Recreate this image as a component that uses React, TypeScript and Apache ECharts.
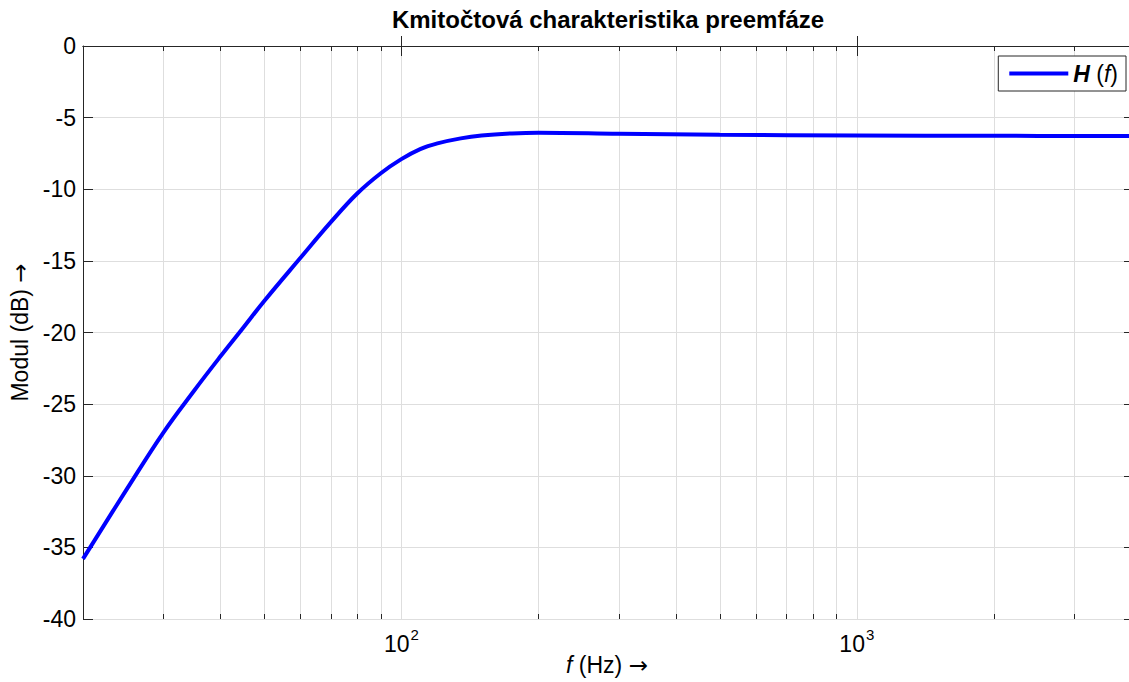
import React, { useEffect, useRef } from "react";
import * as echarts from "echarts";

// Frequency (Hz) and module (dB)
const freqHz = [20, 25, 30, 35, 40, 45, 50, 60, 70, 80, 90, 100, 110, 120, 135, 150, 175, 200, 300, 500, 1000, 2000, 4000];
const modulDb = [-35.8, -30.9, -27.0, -24.1, -21.7, -19.65, -17.8, -14.8, -12.3, -10.3, -8.9, -7.9, -7.2, -6.8, -6.45, -6.25, -6.1, -6.05, -6.12, -6.2, -6.25, -6.27, -6.28];

// Minor log-grid frequencies
const minorFreqs = [30, 40, 50, 60, 70, 80, 90, 200, 300, 400, 500, 600, 700, 800, 900, 2000, 3000];

const xMin = 20;
const xMax = 4000;
const yMin = -40;
const yMax = 0;
const yStep = 5;

const titleText = "Kmitočtová charakteristika preemfáze";
const seriesName = "H (f)";

const FONT = "Liberation Sans, Arial, Helvetica, sans-serif";
const ARROW_FONT = "DejaVu Sans, Liberation Sans, sans-serif";
const AXIS = "#262626";
const GRID = "#dedede";
const FS = 23;

export default function App() {
  const ref = useRef<HTMLDivElement>(null);

  useEffect(() => {
    if (!ref.current) return;
    const chart = echarts.init(ref.current, undefined, { renderer: "svg" });

    const lineData = freqHz.map((f, i) => [f, modulDb[i]]);

    const option: any = {
      animation: false,
      backgroundColor: "#ffffff",
      title: {
        text: titleText,
        left: 608,
        top: 7,
        textAlign: "center",
        padding: 0,
        textStyle: { fontFamily: FONT, fontSize: 24, fontWeight: "bold", color: "#000" },
      },
      legend: {
        data: [seriesName],
        right: 3,
        top: 56,
        backgroundColor: "#ffffff",
        borderColor: AXIS,
        borderWidth: 1,
        borderRadius: 0,
        padding: [6, 8, 6, 11],
        itemWidth: 59,
        itemHeight: 4,
        itemGap: 5,
        icon: "rect",
        formatter: () => "{b|H} {p|(}{i|f}{p|)}",
        textStyle: {
          fontFamily: FONT,
          fontSize: FS,
          color: "#000",
          rich: {
            b: { fontFamily: FONT, fontSize: FS, fontWeight: "bold", fontStyle: "italic", color: "#000" },
            p: { fontFamily: FONT, fontSize: FS, color: "#000" },
            i: { fontFamily: FONT, fontSize: FS, fontStyle: "italic", color: "#000" },
          },
        },
      },
      grid: {
        left: 83,
        right: -2,
        top: 46,
        bottom: 63,
        containLabel: false,
        outerBoundsMode: "none",
      },
      xAxis: [
        {
          type: "log",
          logBase: 10,
          min: xMin,
          max: xMax,
          position: "bottom",
          name: "{i|f} (Hz) {a|→}",
          nameLocation: "middle",
          nameGap: 34,
          nameMoveOverlap: false,
          nameTextStyle: {
            fontFamily: FONT,
            fontSize: FS,
            lineHeight: 24,
            color: "#000",
            rich: {
              i: { fontFamily: FONT, fontSize: FS, lineHeight: 24, fontStyle: "italic", color: "#000" },
              a: { fontFamily: ARROW_FONT, fontSize: FS, lineHeight: 24, color: "#000" },
            },
          },
          axisLine: { show: true, lineStyle: { color: AXIS, width: 1 } },
          axisTick: { show: true, inside: true, length: 10, lineStyle: { color: AXIS } },
          axisLabel: {
            showMinLabel: false,
            showMaxLabel: false,
            margin: 8,
            formatter: (v: number) => {
              const e = Math.log10(v);
              const n = Math.round(e);
              if (Math.abs(e - n) < 1e-6 && n >= 1 && n <= 4) return `{b|10}{s|${n}}`;
              return "";
            },
            rich: {
              b: { fontFamily: FONT, fontSize: FS, color: "#000", verticalAlign: "bottom" },
              s: { fontFamily: FONT, fontSize: 15, color: "#000", verticalAlign: "bottom", padding: [0, 0, 13, 1] },
            },
          },
          splitLine: { show: true, lineStyle: { color: GRID, width: 1 } },
        },
        {
          type: "log",
          logBase: 10,
          min: xMin,
          max: xMax,
          position: "top",
          axisLine: { show: true, lineStyle: { color: AXIS, width: 1 } },
          axisTick: { show: true, inside: true, length: 10, lineStyle: { color: AXIS } },
          axisLabel: { show: false },
          splitLine: { show: false },
        },
      ],
      yAxis: [
        {
          type: "value",
          min: yMin,
          max: yMax,
          interval: yStep,
          position: "left",
          name: "Modul (dB) {a|→}",
          nameLocation: "middle",
          nameRotate: 90,
          nameGap: 50,
          nameTextStyle: {
            fontFamily: FONT,
            fontSize: FS,
            color: "#000",
            rich: { a: { fontFamily: ARROW_FONT, fontSize: FS, color: "#000" } },
          },
          axisLine: { show: true, lineStyle: { color: AXIS, width: 1 } },
          axisTick: { show: true, inside: true, length: 10, lineStyle: { color: AXIS } },
          axisLabel: { margin: 7, fontFamily: FONT, fontSize: FS, color: "#000" },
          splitLine: { show: true, lineStyle: { color: GRID, width: 1 } },
        },
        {
          type: "value",
          min: yMin,
          max: yMax,
          interval: yStep,
          position: "right",
          axisLine: { show: true, lineStyle: { color: AXIS, width: 1 } },
          axisTick: { show: true, inside: true, length: 7, lineStyle: { color: AXIS } },
          axisLabel: { show: false },
          splitLine: { show: false },
        },
      ],
      series: [
        {
          type: "custom",
          name: "minor",
          silent: true,
          z: 1,
          xAxisIndex: 0,
          yAxisIndex: 0,
          data: minorFreqs.map((f) => [f, yMin]),
          renderItem: (params: any, api: any) => {
            const f = api.value(0);
            const bottom = api.coord([f, yMin]);
            const top = api.coord([f, yMax]);
            const x = Math.round(bottom[0]) + 0.5;
            return {
              type: "group",
              children: [
                {
                  type: "line",
                  shape: { x1: x, y1: top[1], x2: x, y2: bottom[1] },
                  style: { stroke: GRID, lineWidth: 1 },
                },
                {
                  type: "line",
                  shape: { x1: x, y1: bottom[1], x2: x, y2: bottom[1] - 5 },
                  style: { stroke: AXIS, lineWidth: 1 },
                },
                {
                  type: "line",
                  shape: { x1: x, y1: top[1], x2: x, y2: top[1] + 5 },
                  style: { stroke: AXIS, lineWidth: 1 },
                },
              ],
            };
          },
        },
        {
          type: "line",
          name: seriesName,
          xAxisIndex: 0,
          yAxisIndex: 0,
          z: 5,
          data: lineData,
          smooth: 0.4,
          showSymbol: false,
          symbol: "none",
          color: "#0000ff",
          lineStyle: { color: "#0000ff", width: 4 },
        },
      ],
    };

    chart.setOption(option);
    return () => {
      chart.dispose();
    };
  }, []);

  return (
    <div
      ref={ref}
      style={{ position: "absolute", left: 0, top: 0, width: 1129, height: 682, background: "#fff" }}
    />
  );
}
